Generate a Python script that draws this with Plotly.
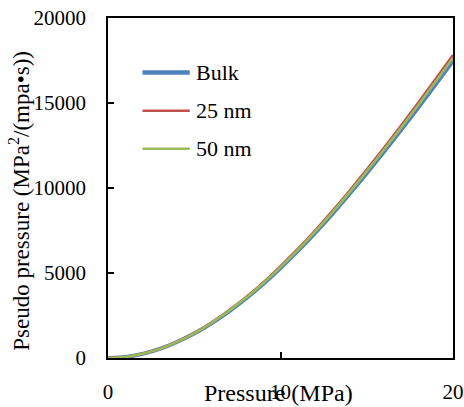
import plotly.graph_objects as go

# Data
pressure = [0, 1, 2, 3, 4, 5, 6, 7, 8, 9, 10, 11, 12, 13, 14, 15, 16, 17, 18, 19, 20]
bulk = [0, 59, 243, 535, 941, 1436, 2039, 2732, 3505, 4356, 5297, 6287, 7346, 8465, 9643, 10870, 12128, 13424, 14751, 16107, 17474]
nm25 = [0, 61, 247, 545, 960, 1465, 2081, 2788, 3575, 4444, 5404, 6414, 7494, 8636, 9837, 11090, 12373, 13696, 15049, 16433, 17827]
nm50 = [0, 60, 245, 540, 950, 1450, 2060, 2760, 3540, 4400, 5350, 6350, 7420, 8550, 9740, 10980, 12250, 13560, 14900, 16270, 17650]
series_names = ["Bulk", "25 nm", "50 nm"]
x_ticks = [0, 10, 20]
x_labels = ["0", "10", "20"]
y_ticks = [0, 5000, 10000, 15000, 20000]
y_labels = ["0", "5000", "10000", "15000", "20000"]
x_title = "Pressure (MPa)"
y_title = "Pseudo pressure (MPa<sup>2</sup>/(mpa•s))"

colors = ["#4F81BD", "#C0504D", "#9BBB59"]
widths_plot = [4, 2.5, 2.5]
widths_leg = [4.5, 2.5, 2.5]
FONT = "Liberation Serif"

fig = go.Figure()
for name, ys, c, w in zip(series_names, [bulk, nm25, nm50], colors, widths_plot):
    fig.add_trace(go.Scatter(x=pressure, y=ys, mode="lines", name=name,
                             line=dict(color=c, width=w, shape="spline", smoothing=0.6),
                             showlegend=False, hoverinfo="x+y+name"))

# manual legend (long line samples like the original)
leg_y = [0.84, 0.7274, 0.6156]
for name, c, w, yy in zip(series_names, colors, widths_leg, leg_y):
    fig.add_shape(type="line", xref="paper", yref="paper", x0=0.10, x1=0.237, y0=yy, y1=yy,
                  line=dict(color=c, width=w))
    fig.add_annotation(xref="paper", yref="paper", x=0.249, y=yy, text=name, showarrow=False,
                       xanchor="left", yanchor="middle", font=dict(family=FONT, size=22, color="#000"))

# axis titles as annotations for exact placement
fig.add_annotation(xref="paper", yref="paper", x=0.494, y=-0.104, text=x_title, showarrow=False,
                   xanchor="center", yanchor="middle", font=dict(family=FONT, size=24, color="#000"))
fig.add_annotation(xref="paper", yref="paper", x=-0.255, y=0.4626, text=y_title, showarrow=False,
                   textangle=-90, xanchor="center", yanchor="middle",
                   font=dict(family=FONT, size=23, color="#000"))

fig.update_layout(
    width=464, height=407,
    margin=dict(l=108, r=11, t=18, b=49, autoexpand=False),
    paper_bgcolor="white", plot_bgcolor="white",
    font=dict(family=FONT, size=21, color="#000"),
    showlegend=False,
)
fig.update_xaxes(range=[0, 20], tickvals=x_ticks, ticktext=x_labels, ticks="inside", ticklen=6, tickwidth=1.5,
                 tickcolor="#000", showline=True, linecolor="#000", linewidth=1.5, mirror=True,
                 showgrid=False, zeroline=False, ticklabelstandoff=14, automargin=False)
fig.update_yaxes(range=[0, 20000], tickvals=y_ticks, ticktext=y_labels, ticks="inside", ticklen=6, tickwidth=1.5,
                 tickcolor="#000", showline=True, linecolor="#000", linewidth=1.5, mirror=True,
                 showgrid=False, zeroline=False, ticklabelstandoff=16, automargin=False)

fig.write_html("out.html", config={"displayModeBar": False},
               post_script="document.body.style.margin='0';")
